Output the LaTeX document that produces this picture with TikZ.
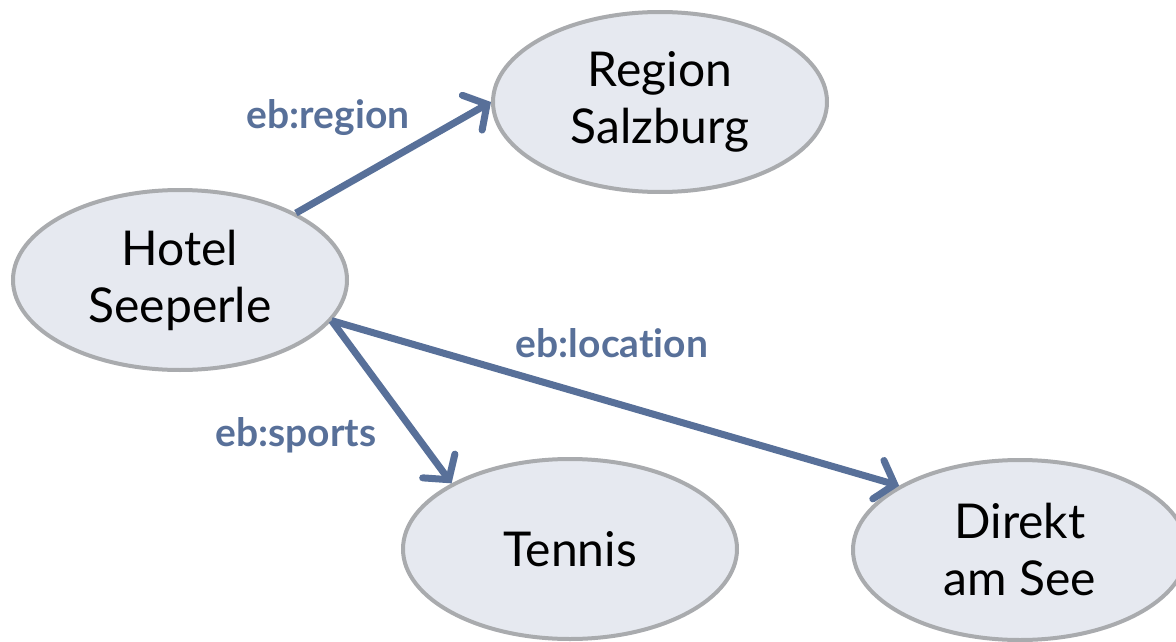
\documentclass[tikz,border=0pt]{standalone}
\usepackage{fontspec}
\setmainfont[Ligatures=NoCommon]{Lato}
\usetikzlibrary{shapes.geometric,arrows.meta}
\definecolor{arrowblue}{HTML}{587099}
\definecolor{nodefill}{HTML}{E6E9F0}
\definecolor{nodeline}{HTML}{A9ABAE}
\tikzset{
  entity/.style={ellipse, draw=nodeline, fill=nodefill, line width=4pt,
    minimum width=334pt, minimum height=180pt, inner sep=0pt, align=center,
    font=\fontsize{48}{57}\selectfont},
  rel/.style={draw=arrowblue, line width=7pt,
    -{Straight Barb[length=17pt,width=40pt,line cap=round]}},
  rellabel/.style={text=arrowblue, font=\bfseries\fontsize{39}{44}\selectfont, inner sep=0pt}
}
\begin{document}
\begin{tikzpicture}[x=1pt,y=-1pt]
\useasboundingbox (0,0) rectangle (1176,642);
\node[entity] (hotel) at (180,280) {Hotel\\Seeperle};
\node[entity] (region) at (660,102) {Region\\Salzburg};
\node[entity] (tennis) at (570,549) {Tennis};
\node[entity] (direkt) at (1020,550) {Direkt\\am See};
\draw[rel] (hotel.30) -- (region.180);
\draw[rel] (hotel.-15) -- (tennis.151);
\draw[rel] (hotel.-15) -- (direkt.152);
\node[rellabel] (lregion) at (328,118) {eb:region};
\node[rellabel] (lsports) at (296,435) {eb:sports};
\node[rellabel] (llocation) at (612,343) {eb:location};
\end{tikzpicture}
\end{document}
